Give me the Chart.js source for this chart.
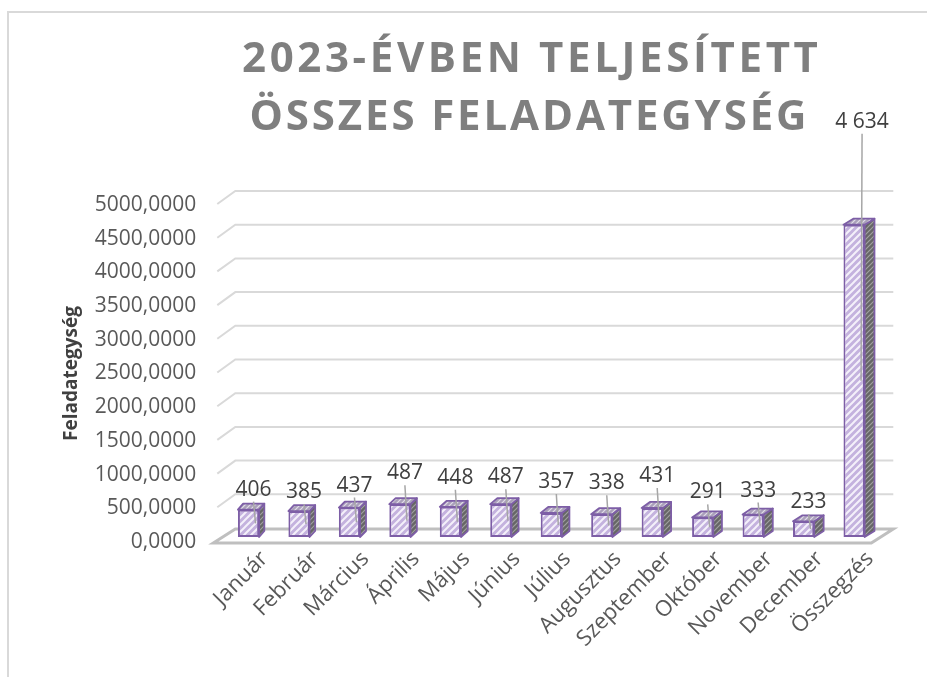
<!DOCTYPE html>
<html><head><meta charset="utf-8">
<script src="https://cdn.jsdelivr.net/npm/chart.js@4"></script>
<style>html,body{margin:0;padding:0;background:#fff;overflow:hidden}</style>
</head><body>
<canvas id="c" width="927" height="677"></canvas>
<script>
// ---- data ----
const TITLE_LINES = ['2023-ÉVBEN TELJESÍTETT', 'ÖSSZES FELADATEGYSÉG'];
const Y_TITLE = 'Feladategység';
const CATEGORIES = ['Január','Február','Március','Április','Május','Június','Július','Augusztus','Szeptember','Október','November','December','Összegzés'];
const VALUES = [406, 385, 437, 487, 448, 487, 357, 338, 431, 291, 333, 233, 4634];
const Y_MIN = 0, Y_MAX = 5000, Y_STEP = 500;

// ---- styling ----
const LABEL_LIFT = [20,19,22,31,29,27,31,31,32,25,24,19,103];
const FONT = 'Open Sans';
const BAR_DY = -5;

const canvas = document.getElementById('c');
const ctx0 = canvas.getContext('2d');
function makePattern(bg, line, size, lw) {
  const c = document.createElement('canvas'); c.width = c.height = size;
  const g = c.getContext('2d');
  g.fillStyle = bg; g.fillRect(0, 0, size, size);
  g.strokeStyle = line; g.lineWidth = lw;
  g.beginPath();
  g.moveTo(-1, size + 1); g.lineTo(size + 1, -1);
  g.moveTo(-size / 2 - 1, size / 2 + 1); g.lineTo(size / 2 + 1, -size / 2 - 1);
  g.moveTo(size / 2 - 1, size * 1.5 + 1); g.lineTo(size * 1.5 + 1, size / 2 - 1);
  g.stroke();
  return ctx0.createPattern(c, 'repeat');
}
const FRONT_PAT = makePattern('#c4b2de', '#f4f0fa', 7, 2.0);
const SIDE_PAT = makePattern('#666666', '#a0a0a0', 5, 1.2);
const TOP_PAT = makePattern('#aaa0bb', '#e2dde8', 5, 1.2);
const PURPLE = '#7d5ea6';

function fmtThousands(v) { return String(v).replace(/\B(?=(\d{3})+(?!\d))/g, ' '); }

const decor = {
  id: 'decor',
  beforeDraw(chart) {
    const { ctx, chartArea: a, scales: { y } } = chart;
    ctx.save();
    // outer border
    ctx.strokeStyle = '#d9d9d9'; ctx.lineWidth = 2;
    ctx.beginPath(); ctx.moveTo(8, 677); ctx.lineTo(8, 12); ctx.lineTo(927, 12); ctx.stroke();
    // title
    ctx.fillStyle = '#7f7f7f';
    ctx.font = 'bold 42px "' + FONT + '"';
    ctx.textBaseline = 'alphabetic'; ctx.textAlign = 'left';
    const targets = [576, 557], baselines = [72, 130], centers = [530, 528];
    TITLE_LINES.forEach((t, i) => {
      ctx.letterSpacing = '0px';
      const w0 = ctx.measureText(t).width;
      const sp = (targets[i] - w0) / (t.length - 1);
      ctx.letterSpacing = sp.toFixed(2) + 'px';
      ctx.fillText(t, centers[i] - targets[i] / 2, baselines[i]);
    });
    ctx.letterSpacing = '0px';
    // back wall gridlines
    const backDx = 12, backDy = -14;
    ctx.strokeStyle = '#d9d9d9'; ctx.lineWidth = 2;
    for (let v = Y_MIN + Y_STEP; v <= Y_MAX; v += Y_STEP) {
      const yf = y.getPixelForValue(v);
      ctx.beginPath();
      ctx.moveTo(a.left - 6, yf - 1);
      ctx.lineTo(a.left + backDx, yf + backDy);
      ctx.lineTo(a.right + 14, yf + backDy);
      ctx.stroke();
    }
    // floor
    const y0 = y.getPixelForValue(Y_MIN);
    ctx.strokeStyle = '#bfbfbf'; ctx.lineWidth = 3;
    ctx.fillStyle = '#ffffff';
    ctx.beginPath();
    ctx.moveTo(a.left - 10, y0 + 1);
    ctx.lineTo(a.left + backDx, y0 + backDy + 1);
    ctx.lineTo(a.right + 14, y0 + backDy + 1);
    ctx.lineTo(a.right - 8, y0 + 1);
    ctx.closePath(); ctx.fill(); ctx.stroke();
    ctx.restore();
  },
  beforeDatasetsDraw(chart) {
    chart.ctx.save();
    chart.ctx.translate(0, BAR_DY);
  },
  afterDatasetsDraw(chart) {
    const { ctx, chartArea: a } = chart;
    ctx.restore();
    const meta = chart.getDatasetMeta(0);
    ctx.save();
    meta.data.forEach((bar, i) => {
      const p = bar.getProps(['x', 'y', 'base', 'width'], true);
      const l = p.x - p.width / 2, r = p.x + p.width / 2;
      const top = p.y + BAR_DY, bot = p.base + BAR_DY;
      const dx = 5 + 5 * (p.x - a.left) / (a.right - a.left), dy = 6;
      ctx.lineWidth = 1.8; ctx.strokeStyle = PURPLE; ctx.lineJoin = 'round';
      // side
      ctx.beginPath();
      ctx.moveTo(r, top); ctx.lineTo(r + dx, top - dy); ctx.lineTo(r + dx, bot - dy); ctx.lineTo(r, bot);
      ctx.closePath(); ctx.fillStyle = SIDE_PAT; ctx.fill(); ctx.stroke();
      // top
      ctx.beginPath();
      ctx.moveTo(l, top); ctx.lineTo(l + dx, top - dy); ctx.lineTo(r + dx, top - dy); ctx.lineTo(r, top);
      ctx.closePath(); ctx.fillStyle = TOP_PAT; ctx.fill(); ctx.stroke();
      // label + leader
      const lx = p.x + (i === meta.data.length - 1 ? 8 : 5);
      const ly = top - LABEL_LIFT[i];
      ctx.strokeStyle = '#a6a6a6'; ctx.lineWidth = 1.5;
      ctx.beginPath();
      ctx.moveTo(lx, ly + 12);
      ctx.lineTo(p.x + 7, (top + bot) / 2);
      ctx.stroke();
      ctx.fillStyle = '#404040';
      ctx.font = '21px "' + FONT + '"';
      ctx.textAlign = 'center'; ctx.textBaseline = 'middle';
      ctx.fillText(fmtThousands(VALUES[i]), lx, ly);
    });
    ctx.restore();
  }
};

new Chart(canvas, {
  type: 'bar',
  data: {
    labels: CATEGORIES,
    datasets: [{
      data: VALUES,
      backgroundColor: FRONT_PAT,
      borderColor: PURPLE,
      borderWidth: 2,
      borderSkipped: false,
      barPercentage: 0.42,
      categoryPercentage: 1
    }]
  },
  options: {
    responsive: false,
    animation: false,
    events: [],
    layout: { padding: { left: 56, right: 47.7, top: 205, bottom: 0 } },
    plugins: { legend: { display: false }, tooltip: { enabled: false }, title: { display: false } },
    scales: {
      x: {
        grid: { display: false, drawTicks: false },
        border: { display: false },
        ticks: {
          autoSkip: false, minRotation: 45, maxRotation: 45,
          font: { family: FONT, size: 22 }, color: '#595959', padding: 4, labelOffset: 16
        },
        afterFit(s) { s.height = 135; }
      },
      y: {
        min: Y_MIN, max: Y_MAX,
        grid: { display: false, drawTicks: false },
        border: { display: false },
        ticks: {
          stepSize: Y_STEP,
          callback: v => Number(v).toFixed(4).replace('.', ','),
          font: { family: FONT, size: 21 }, color: '#595959', padding: 27
        },
        title: {
          display: true, text: Y_TITLE, color: '#404040',
          font: { family: FONT, size: 19, weight: 'bold' }, padding: { top: 4, bottom: 0 }
        },
        afterFit(s) { s.width = 223.3 - 56; }
      }
    }
  },
  plugins: [decor]
});
</script>
</body></html>
